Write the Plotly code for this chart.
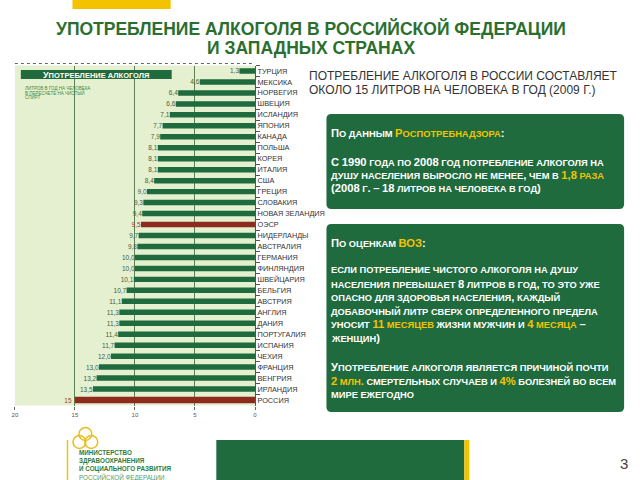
import re
import plotly.graph_objects as go

# ---------------- data ----------------
countries = ["ТУРЦИЯ", "МЕКСИКА", "НОРВЕГИЯ", "ШВЕЦИЯ", "ИСЛАНДИЯ", "ЯПОНИЯ", "КАНАДА",
             "ПОЛЬША", "КОРЕЯ", "ИТАЛИЯ", "США", "ГРЕЦИЯ", "СЛОВАКИЯ", "НОВАЯ ЗЕЛАНДИЯ",
             "ОЭСР", "НИДЕРЛАНДЫ", "АВСТРАЛИЯ", "ГЕРМАНИЯ", "ФИНЛЯНДИЯ", "ШВЕЙЦАРИЯ",
             "БЕЛЬГИЯ", "АВСТРИЯ", "АНГЛИЯ", "ДАНИЯ", "ПОРТУГАЛИЯ", "ИСПАНИЯ", "ЧЕХИЯ",
             "ФРАНЦИЯ", "ВЕНГРИЯ", "ИРЛАНДИЯ", "РОССИЯ"]
liters = [1.3, 4.6, 6.4, 6.6, 7.1, 7.7, 7.9, 8.1, 8.1, 8.1, 8.4, 9.0, 9.3, 9.4,
          9.5, 9.7, 9.8, 10.0, 10.0, 10.1, 10.7, 11.1, 11.3, 11.3, 11.4, 11.7, 12.0,
          13.0, 13.2, 13.5, 15]
highlighted = ["ОЭСР", "РОССИЯ"]
x_tick_values = [20, 15, 10, 5, 0]
grid_values = [15, 10, 5]

# ---------------- styling ----------------
W, H = 640, 480
GREEN = "#1f6b3e"
RED = "#8e2b1f"
LIGHT = "#e4f0d0"
YELLOW = "#f3c300"
TITLE_GREEN = "#2b6f2f"
FONT = "Liberation Sans, Arial, sans-serif"


def X(px):
    return px / W


def Y(py):
    return 1 - py / H


labels = []
for c, v in zip(countries, liters):
    if c == "РОССИЯ":
        labels.append(str(int(v)))
    else:
        labels.append(("%.1f" % v).replace(".", ","))

bar_colors = [RED if c in highlighted else GREEN for c in countries]
label_colors = ["#9a3b22" if c in highlighted else "#3f5f3f" for c in countries]
bar_widths = [0.6 if c == "РОССИЯ" else 0.5 for c in countries]

fig = go.Figure()
fig.add_trace(go.Bar(
    x=liters, y=countries, orientation="h",
    marker=dict(color=bar_colors, line=dict(width=0)),
    width=bar_widths,
    text=labels, textposition="outside", cliponaxis=False, constraintext="none",
    textfont=dict(size=6.5, color=label_colors, family=FONT),
    hoverinfo="skip", showlegend=False,
))

fig.update_layout(
    width=W, height=H,
    margin=dict(l=0, r=0, t=0, b=0),
    paper_bgcolor="white",
    plot_bgcolor=LIGHT,
    font=dict(family=FONT),
    xaxis=dict(
        domain=[X(12), X(254)], range=[20, 0],
        tickmode="array", tickvals=x_tick_values,
        ticktext=[str(v) for v in x_tick_values],
        ticks="outside", ticklen=3, tickcolor="#666", tickwidth=1,
        tickfont=dict(size=6, color="#555", family=FONT),
        showgrid=False, zeroline=False, showline=False,
        minor=dict(tickmode="array", tickvals=grid_values, showgrid=True,
                   gridcolor="#5f7f55", gridwidth=1, ticks=""),
        fixedrange=True,
    ),
    yaxis=dict(
        domain=[Y(405.5), Y(65.5)],
        type="category", categoryorder="array", categoryarray=countries,
        range=[len(countries) - 0.5, -0.5],
        side="right", tickson="boundaries",
        ticks="outside", ticklen=4, tickcolor="#555", tickwidth=1,
        showline=True, linecolor="#555", linewidth=1,
        tickfont=dict(size=7.3, color="#333", family=FONT),
        showgrid=False, zeroline=False, fixedrange=True,
    ),
)

shapes = []


def rect(x0, y0, x1, y1, color, layer="above"):
    shapes.append(dict(type="rect", xref="paper", yref="paper",
                       x0=X(x0), x1=X(x1), y0=Y(y1), y1=Y(y0),
                       fillcolor=color, line=dict(width=0), layer=layer))


def rounded(x0, y0, x1, y1, r, color):
    def p(a, b):
        return "%.5f,%.5f" % (X(a), Y(b))
    path = ("M " + p(x0 + r, y0) + " L " + p(x1 - r, y0) + " Q " + p(x1, y0) + " " + p(x1, y0 + r) +
            " L " + p(x1, y1 - r) + " Q " + p(x1, y1) + " " + p(x1 - r, y1) +
            " L " + p(x0 + r, y1) + " Q " + p(x0, y1) + " " + p(x0, y1 - r) +
            " L " + p(x0, y0 + r) + " Q " + p(x0, y0) + " " + p(x0 + r, y0) + " Z")
    shapes.append(dict(type="path", xref="paper", yref="paper", path=path,
                       fillcolor=color, line=dict(width=0), layer="below"))


# top yellow accent
rect(70, 0, 169, 9, YELLOW)
# hide top part of the 15 grid line behind the legend area
rect(60, 66, 90, 107, LIGHT, layer="between")
# dashed top border of chart
shapes.append(dict(type="line", xref="paper", yref="paper", x0=X(12), x1=X(254),
                   y0=Y(63.5), y1=Y(63.5), line=dict(color="#666", width=1, dash="dot")))
# chart header box
rect(18, 70, 170, 79, GREEN)
# text boxes
rounded(326, 114, 626, 209, 5, GREEN)
rounded(326, 224, 626, 412, 5, GREEN)
# bottom band
rect(215, 440, 465, 482, GREEN)
rect(465, 440, 470, 482, YELLOW)
# logo
shapes.append(dict(type="line", xref="paper", yref="paper", x0=X(65), x1=X(65),
                   y0=Y(440), y1=Y(482), line=dict(color=YELLOW, width=1.5)))
for cx, cy in [(83, 434), (77, 442), (89, 442)]:
    r = 6.5
    shapes.append(dict(type="circle", xref="paper", yref="paper",
                       x0=X(cx - r), x1=X(cx + r), y0=Y(cy + r), y1=Y(cy - r),
                       line=dict(color="#e6bf1c", width=1.5), fillcolor="rgba(0,0,0,0)"))

fig.update_layout(shapes=shapes)

ann = []


def text(x, y, s, size, color, anchor="left", weight="normal", family=FONT, yanchor="middle"):
    ann.append(dict(x=X(x), y=Y(y), xref="paper", yref="paper", text=s, showarrow=False,
                    xanchor=anchor, yanchor=yanchor, align=anchor,
                    font=dict(size=size, color=color, family=family, weight=weight)))


def smallcaps(markup, big, small, base="white", accent=YELLOW):
    """Render text in small caps: lowercase letters -> smaller uppercase.
    Parts in {braces} are drawn in the accent colour."""
    runs = []
    for i, part in enumerate(re.split(r"[{}]", markup)):
        color = accent if i % 2 == 1 else base
        for ch in part:
            if ch.islower():
                key, out = (small, color), ch.upper()
            elif ch == " ":
                key, out = (small, color), ch
            else:
                key, out = (big, color), ch
            if runs and runs[-1][0] == key:
                runs[-1][1] += out
            else:
                runs.append([key, out])
    return "".join("<span style='font-size:%gpx;color:%s'>%s</span>" % (k[0], k[1], t)
                   for k, t in runs)


# title
text(310, 28, "УПОТРЕБЛЕНИЕ АЛКОГОЛЯ В РОССИЙСКОЙ ФЕДЕРАЦИИ", 17.5, TITLE_GREEN, "center", "bold")
text(310, 48, "И ЗАПАДНЫХ СТРАНАХ", 17.5, TITLE_GREEN, "center", "bold")

# chart header & subtitle
text(94, 74.5, smallcaps("Употребление алкоголя", 9, 7.5), 9, "white", "center", "bold")
text(20, 88, "ЛИТРОВ В ГОД НА ЧЕЛОВЕКА", 4.5, "#3d8a3d")
text(20, 92.5, "В ПЕРЕСЧЕТЕ НА ЧИСТЫЙ", 4.5, "#3d8a3d")
text(20, 97, "СПИРТ", 4.5, "#3d8a3d")

# right heading
text(306, 76, "ПОТРЕБЛЕНИЕ АЛКОГОЛЯ В РОССИИ СОСТАВЛЯЕТ", 12.0, "#333")
text(306, 90, "ОКОЛО 15 ЛИТРОВ НА ЧЕЛОВЕКА В ГОД (2009 Г.)", 12.0, "#333")

box1_lines = [
    (133, "По данным {Роспотребнадзора}:"),
    (162, "С 1990 года по 2008 год потребление алкоголя на"),
    (175, "душу населения выросло не менее, чем в {1,8 раза}"),
    (188, "(2008 г. – 18 литров на человека в год)"),
]
box2_lines = [
    (243, "По оценкам {ВОЗ}:"),
    (270, "если потребление чистого алкоголя на душу"),
    (284, "населения превышает 8 литров в год, то это уже"),
    (297, "опасно для здоровья населения, каждый"),
    (311, "добавочный литр сверх определенного предела"),
    (324, "уносит {11 месяцев} жизни мужчин и {4 месяца} –"),
    (338, "женщин)"),
    (367, "Употребление алкоголя является причиной почти"),
    (381, "{2 млн.} смертельных случаев и {4%} болезней во всем"),
    (395, "мире ежегодно"),
]
for yy, s in box1_lines + box2_lines:
    text(329, yy, smallcaps(s, 11.2, 9.3), 11.2, "white", "left", "bold")

# logo text
text(75, 447, "МИНИСТЕРСТВО<br>ЗДРАВООХРАНЕНИЯ<br>И СОЦИАЛЬНОГО РАЗВИТИЯ<br>"
     "<span style='color:#5a9a60;font-weight:normal'>РОССИЙСКОЙ ФЕДЕРАЦИИ</span>",
     6.3, "#2e7d3a", "left", "bold", yanchor="top")

# page number
text(626, 463, "3", 15, "#444", "center")

fig.update_layout(annotations=ann)

fig.write_html("out.html", config={"displayModeBar": False},
               post_script="document.body.style.margin='0';")
